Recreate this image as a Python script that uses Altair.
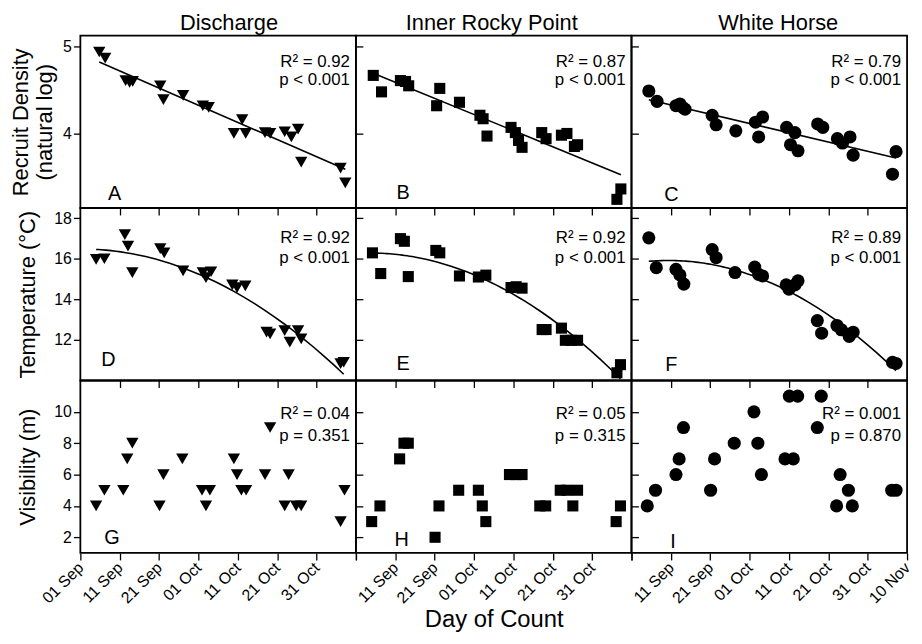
import altair as alt
import pandas as pd

FONT = "Liberation Sans"

site_names = ["Discharge", "Inner Rocky Point", "White Horse"]
row_titles = [["Recruit Density", "(natural log)"], "Temperature (°C)", "Visibility (m)"]
x_tick_days = [0, 10, 20, 30, 40, 50, 60, 70]
x_tick_labels = ["01 Sep", "11 Sep", "21 Sep", "01 Oct", "11 Oct", "21 Oct", "31 Oct", "10 Nov"]
x_labels_shown = [[0, 1, 2, 3, 4, 5, 6], [1, 2, 3, 4, 5, 6], [1, 2, 3, 4, 5, 6, 7]]
y_domains = [[3.14, 5.13], [10, 18.5], [1, 12]]
y_ticks = [[4, 5], [12, 14, 16, 18], [2, 4, 6, 8, 10]]

# ---- data: day of count as days after 01 Sep ----
A_day = [4.8, 6.3, 11.5, 12.5, 13.3, 20.3, 21.1, 26.1, 31.1, 32.6, 39.0, 41.1, 42.0, 46.9, 48.2, 51.9, 53.6, 55.3, 56.1, 66.1, 67.3]
A_val = [4.94, 4.87, 4.61, 4.59, 4.60, 4.55, 4.39, 4.44, 4.32, 4.30, 4.00, 4.16, 4.00, 4.01, 4.00, 4.02, 3.96, 4.05, 3.67, 3.60, 3.43]

B_day = [4.4, 6.5, 11.3, 12.6, 13.4, 20.5, 21.3, 26.3, 31.5, 32.3, 33.3, 39.4, 40.5, 41.3, 42.2, 47.2, 48.3, 52.2, 53.6, 55.5, 56.3, 67.3, 66.3]
B_val = [4.67, 4.48, 4.61, 4.60, 4.55, 4.32, 4.52, 4.36, 4.21, 4.17, 3.97, 4.07, 4.01, 3.92, 3.84, 4.01, 3.94, 3.98, 4.00, 3.85, 3.87, 3.36, 3.24]

C_day = [4.4, 6.5, 11.3, 12.3, 13.0, 13.6, 20.5, 21.5, 26.5, 31.5, 33.3, 32.3, 39.4, 41.5, 40.4, 42.3, 47.3, 48.6, 52.3, 53.6, 55.5, 56.3, 67.2, 66.3]
C_val = [4.49, 4.37, 4.32, 4.34, 4.30, 4.28, 4.21, 4.10, 4.03, 4.13, 4.19, 3.96, 4.07, 4.01, 3.87, 3.80, 4.11, 4.07, 3.94, 3.89, 3.96, 3.75, 3.79, 3.53]

D_day = [4.0, 6.1, 11.3, 12.1, 13.2, 20.3, 21.3, 26.1, 31.1, 31.9, 33.2, 38.6, 39.8, 41.9, 47.3, 48.2, 51.9, 53.2, 55.3, 56.1, 66.1, 66.9]
D_val = [15.97, 16.0, 17.19, 16.62, 15.32, 16.5, 16.29, 15.4, 15.32, 15.07, 15.36, 14.71, 14.58, 14.66, 12.38, 12.30, 12.46, 11.89, 12.46, 12.05, 10.83, 10.9]

E_day = [4.2, 6.3, 11.3, 12.3, 13.3, 20.3, 21.3, 26.3, 31.1, 33.0, 39.4, 40.7, 42.2, 47.3, 48.3, 52.2, 53.2, 54.7, 56.3, 66.3, 67.2]
E_val = [16.29, 15.27, 16.99, 16.86, 15.12, 16.41, 16.29, 15.15, 15.1, 15.19, 14.58, 14.62, 14.55, 12.51, 12.51, 12.58, 11.98, 11.98, 11.98, 10.38, 10.78]

F_day = [4.4, 6.3, 11.3, 12.3, 13.3, 20.5, 21.5, 26.3, 31.3, 32.3, 33.3, 39.3, 40.0, 41.5, 42.3, 47.2, 48.3, 52.2, 53.3, 55.3, 56.3, 66.3, 67.2]
F_val = [17.03, 15.56, 15.48, 15.2, 14.75, 16.45, 16.05, 15.32, 15.59, 15.23, 15.15, 14.71, 14.5, 14.71, 14.91, 12.95, 12.33, 12.71, 12.5, 12.17, 12.38, 10.89, 10.84]

G_day = [4.0, 6.1, 10.9, 11.9, 13.2, 20.1, 21.1, 25.9, 30.9, 31.9, 32.9, 39.0, 39.8, 40.9, 42.1, 46.9, 48.2, 51.9, 52.9, 54.8, 56.1, 66.1, 67.1]
G_val = [4, 5, 5, 7, 8, 4, 6, 7, 5, 4, 5, 7, 6, 5, 5, 6, 9, 4, 6, 4, 4, 3, 5]

H_day = [4.0, 6.1, 11.1, 12.2, 13.3, 20.1, 21.1, 26.1, 31.1, 32.1, 33.0, 39.0, 40.7, 42.2, 46.7, 48.2, 51.9, 53.6, 56.3, 55.1, 66.1, 67.2]
H_val = [3, 4, 7, 8, 8, 2, 4, 5, 5, 4, 3, 6, 6, 6, 4, 4, 5, 5, 5, 4, 3, 4]

I_day = [4.0, 6.1, 11.3, 12.1, 13.2, 20.1, 21.1, 26.1, 31.1, 32.1, 33.0, 39.0, 41.1, 40.1, 42.2, 47.2, 48.2, 53.0, 52.1, 55.1, 56.1, 66.1, 67.2]
I_val = [4, 5, 6, 7, 9, 5, 7, 8, 10, 8, 6, 7, 7, 11, 11, 9, 11, 6, 4, 5, 4, 5, 5]

panel_days = [A_day, B_day, C_day, D_day, E_day, F_day, G_day, H_day, I_day]
panel_vals = [A_val, B_val, C_val, D_val, E_val, F_val, G_val, H_val, I_val]
panel_letters = ["A", "B", "C", "D", "E", "F", "G", "H", "I"]
r2_text = ["R² = 0.92", "R² = 0.87", "R² = 0.79", "R² = 0.92", "R² = 0.92", "R² = 0.89",
           "R² = 0.04", "R² = 0.05", "R² = 0.001"]
p_text = ["p < 0.001", "p < 0.001", "p < 0.001", "p < 0.001", "p < 0.001", "p < 0.001",
          "p = 0.351", "p = 0.315", "p = 0.870"]

# ---- styling / layout ----
W, H = 278, 174
shapes = ["triangle-down", "square", "circle"]
sizes = [155, 125, 175]
stat_y = [[32, 50], [35, 55], [39, 61]]
letter_x = [28, 41, 33, 21, 41, 34, 24, 39, 39]
letter_dy = [8, 9, 7, 15, 11, 10, 9, 7, 5]
ytitle_pad = [6, 14, 14]
title_dx = [11, -2, 9]


def make_panel(i):
    r, c = divmod(i, 3)
    df = pd.DataFrame({"day": panel_days[i], "val": panel_vals[i]})
    xs = alt.Scale(domain=[0, 70], nice=False, zero=False)
    ys = alt.Scale(domain=y_domains[r], nice=False, zero=False)

    if r == 2:
        arr = "[" + ",".join(
            "'" + (lab if k in x_labels_shown[c] else "") + "'" for k, lab in enumerate(x_tick_labels)
        ) + "]"
        xkw = dict(orient="bottom", values=x_tick_days, labelExpr=arr + "[round(datum.value/10)]",
                   labelAngle=-45, labelAlign="right", labelBaseline="middle", labelPadding=5,
                   labelOverlap=False, labelFontSize=16,
                   tickSize=7, domain=False, grid=False, title=None)
        if c == 1:
            xkw.update(title="Day of Count", titleFontSize=24, titlePadding=2)
        xaxis = alt.Axis(**xkw)
    else:
        xaxis = None

    if c == 0:
        yaxis = alt.Axis(orient="left", values=y_ticks[r], title=row_titles[r],
                         titlePadding=ytitle_pad[r], tickSize=7, labelPadding=2,
                         labelOverlap=False, domain=False, grid=False, titleLineHeight=24)
    else:
        yaxis = alt.Axis(orient="left", values=y_ticks[r], labels=False, offset=-7,
                         tickSize=7, domain=False, grid=False, title=None)

    layers = []
    layers.append(
        alt.Chart(df).mark_point(shape=shapes[c], filled=True, size=sizes[c],
                                 color="black", opacity=1)
        .encode(x=alt.X("day:Q", scale=xs, axis=xaxis),
                y=alt.Y("val:Q", scale=ys, axis=yaxis))
    )
    if r > 0:
        topaxis = alt.Axis(orient="top", values=x_tick_days[1:-1], labels=False, offset=-7,
                           tickSize=7, domain=False, grid=False, title=None)
        layers.append(
            alt.Chart(df).mark_point(opacity=0)
            .encode(x=alt.X("day:Q", scale=xs, axis=topaxis),
                    y=alt.Y("val:Q", scale=ys, axis=None))
        )
    if r == 0:
        fit = alt.Chart(df).transform_regression("day", "val", method="linear")
    elif r == 1:
        fit = alt.Chart(df).transform_regression("day", "val", method="poly", order=2)
    else:
        fit = None
    if fit is not None:
        layers.append(
            fit.mark_line(color="black", strokeWidth=1.6)
            .encode(x=alt.X("day:Q", scale=xs, axis=None),
                    y=alt.Y("val:Q", scale=ys, axis=None))
        )
    for txt, yy in [(r2_text[i], stat_y[r][0]), (p_text[i], stat_y[r][1])]:
        layers.append(
            alt.Chart(pd.DataFrame({"t": [txt]}))
            .mark_text(align="right", baseline="alphabetic", fontSize=17, font=FONT, color="black")
            .encode(x=alt.value(W - 6), y=alt.value(yy), text="t:N")
        )
    layers.append(
        alt.Chart(pd.DataFrame({"t": [panel_letters[i]]}))
        .mark_text(align="left", baseline="alphabetic", fontSize=20, font=FONT, color="black")
        .encode(x=alt.value(letter_x[i]), y=alt.value(H - letter_dy[i]), text="t:N")
    )

    props = dict(width=W, height=H)
    if r == 0:
        props["title"] = alt.TitleParams(site_names[c], anchor="middle", fontSize=22,
                                         font=FONT, fontWeight="normal", offset=1,
                                         dx=title_dx[c])
    return alt.layer(*layers).resolve_axis(x="independent", y="independent").properties(**props)


panels = [make_panel(i) for i in range(9)]

chart = (
    alt.concat(*panels, columns=3, spacing=0, bounds="flush")
    .configure_view(stroke="black", strokeWidth=1.8)
    .configure_axis(labelFont=FONT, labelFontSize=16, labelColor="black",
                    tickColor="black", tickWidth=1.3,
                    titleFont=FONT, titleFontSize=22, titleFontWeight="normal",
                    titleColor="black")
    .configure_title(font=FONT, fontSize=22, fontWeight="normal", color="black")
    .properties(padding={"left": 1, "top": 0, "right": 0, "bottom": 0})
)

chart.save("out.html", embed_options={"renderer": "svg", "actions": False})
